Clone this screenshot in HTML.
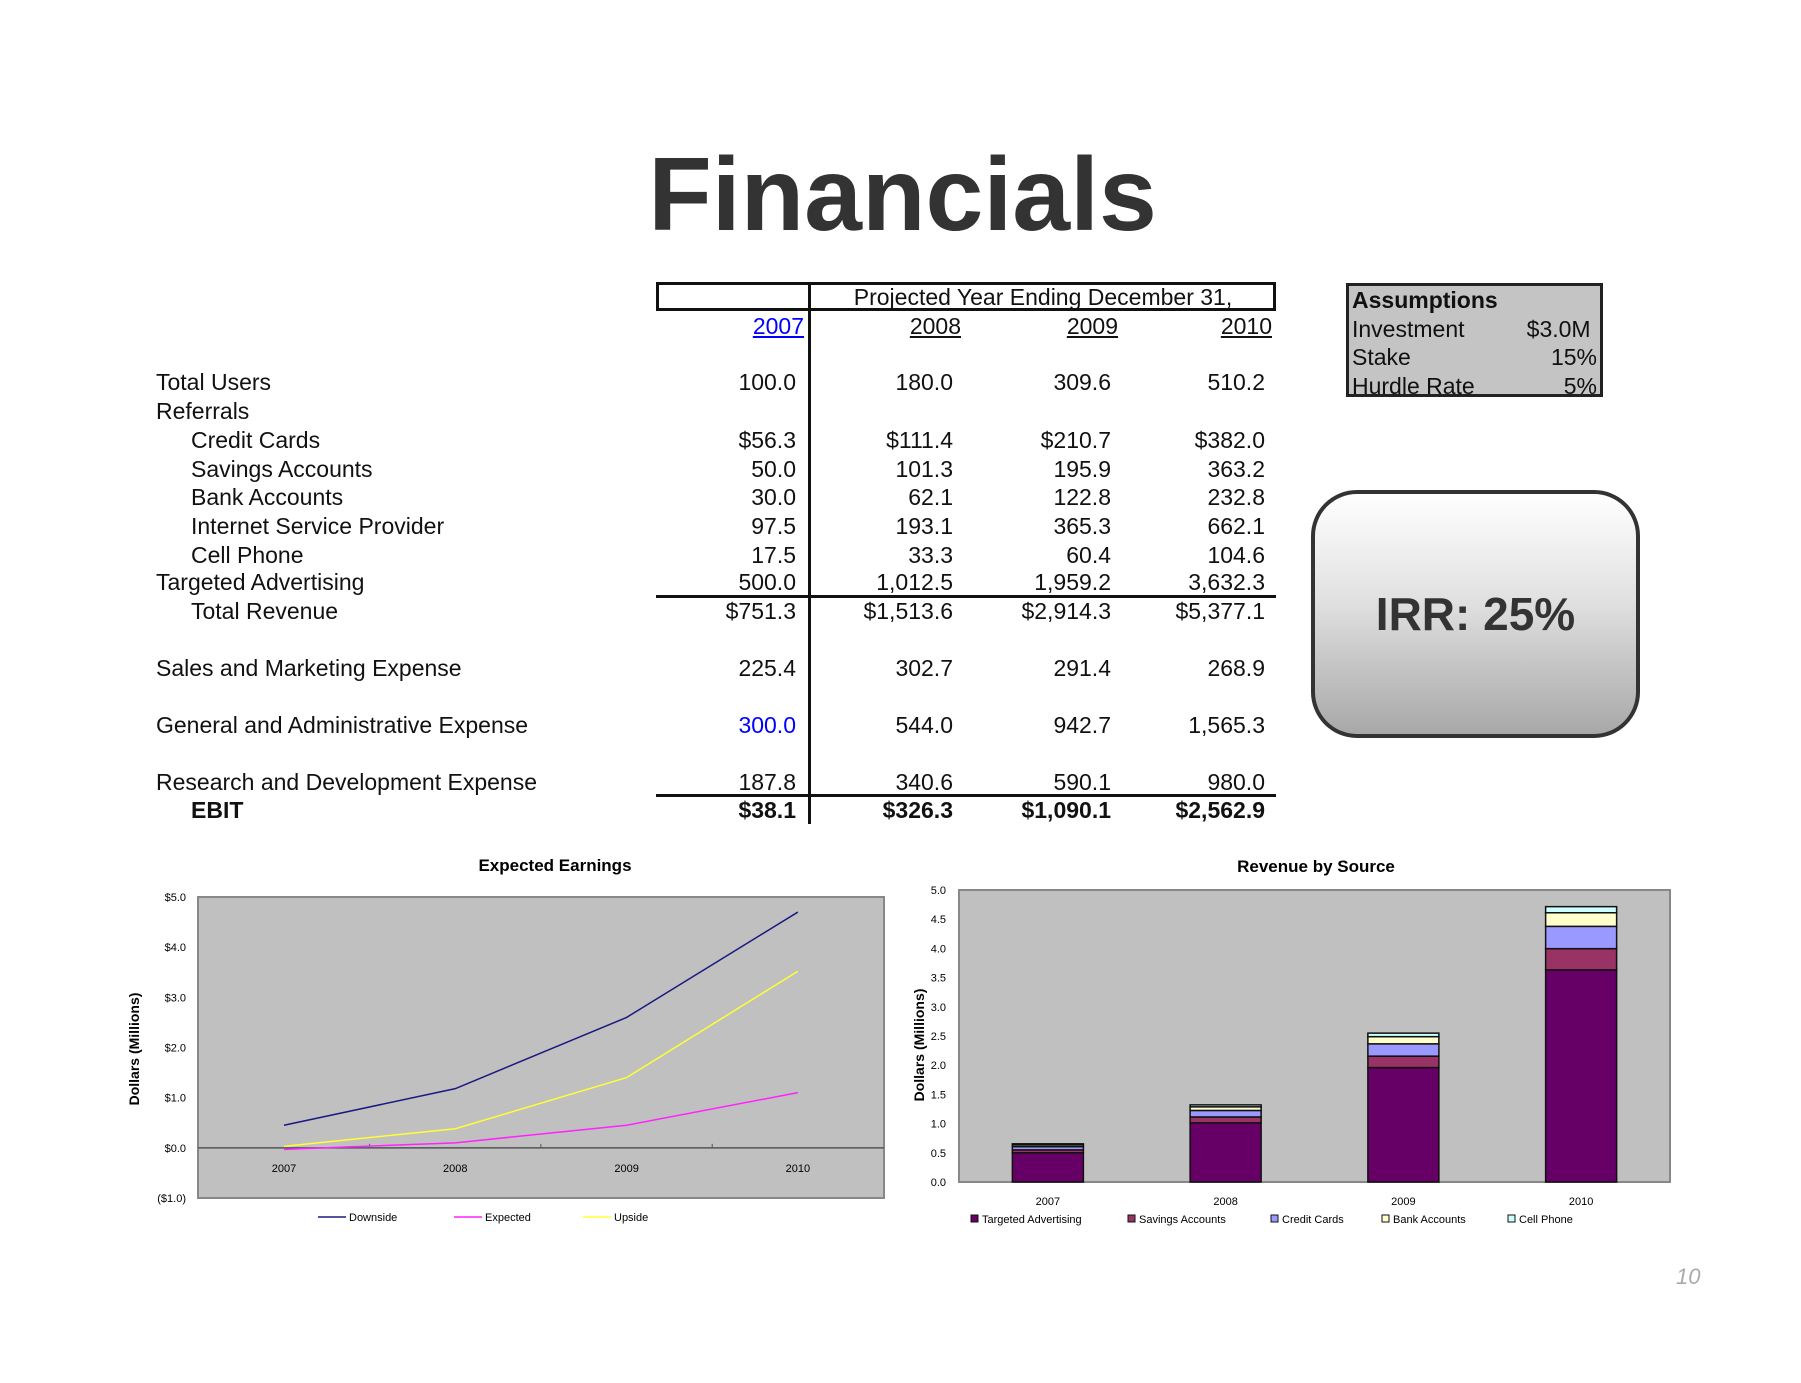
<!DOCTYPE html>
<html><head><meta charset="utf-8"><style>
body{margin:0;width:1801px;height:1383px;background:#fff;position:relative;overflow:hidden;font-family:"Liberation Sans",sans-serif;color:#111}
.a{position:absolute;white-space:nowrap}
.r{position:absolute;left:0;width:1801px;height:26px;line-height:26px;font-size:23px}
.r span{position:absolute;white-space:nowrap}
.l{left:156px}.i{left:191px}
.v1{left:680px;width:116px;text-align:right}
.v2{left:830px;width:123px;text-align:right}
.v3{left:980px;width:131px;text-align:right}
.v4{left:1130px;width:135px;text-align:right}
.b{font-weight:bold}
</style></head><body>
<div class="a" style="left:0;width:1801px;text-align:center;top:140px;font-size:104px;font-weight:bold;color:#333;line-height:110px;padding-left:0;box-sizing:border-box;text-indent:0"><span style="position:relative;left:2px">Financials</span></div>

<div class="a" style="left:656px;top:282px;width:620px;height:29px;border:3px solid #111;box-sizing:border-box"></div>
<div class="a" style="left:808px;top:282px;width:3px;height:542px;background:#111"></div>
<div class="a" style="left:810px;width:466px;text-align:center;top:284px;font-size:23px;line-height:26px">Projected Year Ending December 31,</div>
<div class="r" style="top:313px">
<span class="v1" style="color:#00f;text-decoration:underline;width:124px">2007</span>
<span class="v2" style="text-decoration:underline;width:131px">2008</span>
<span class="v3" style="text-decoration:underline;width:138px">2009</span>
<span class="v4" style="text-decoration:underline;width:142px">2010</span></div>
<div class="r" style="top:369px"><span class="l">Total Users</span><span class="v1">100.0</span><span class="v2">180.0</span><span class="v3">309.6</span><span class="v4">510.2</span></div>
<div class="r" style="top:398px"><span class="l">Referrals</span></div>
<div class="r" style="top:427px"><span class="i">Credit Cards</span><span class="v1">$56.3</span><span class="v2">$111.4</span><span class="v3">$210.7</span><span class="v4">$382.0</span></div>
<div class="r" style="top:456px"><span class="i">Savings Accounts</span><span class="v1">50.0</span><span class="v2">101.3</span><span class="v3">195.9</span><span class="v4">363.2</span></div>
<div class="r" style="top:484px"><span class="i">Bank Accounts</span><span class="v1">30.0</span><span class="v2">62.1</span><span class="v3">122.8</span><span class="v4">232.8</span></div>
<div class="r" style="top:513px"><span class="i">Internet Service Provider</span><span class="v1">97.5</span><span class="v2">193.1</span><span class="v3">365.3</span><span class="v4">662.1</span></div>
<div class="r" style="top:542px"><span class="i">Cell Phone</span><span class="v1">17.5</span><span class="v2">33.3</span><span class="v3">60.4</span><span class="v4">104.6</span></div>
<div class="r" style="top:569px"><span class="l">Targeted Advertising</span><span class="v1">500.0</span><span class="v2">1,012.5</span><span class="v3">1,959.2</span><span class="v4">3,632.3</span></div>
<div class="a" style="left:656px;top:595px;width:620px;height:3px;background:#111"></div>
<div class="r" style="top:598px"><span class="i">Total Revenue</span><span class="v1">$751.3</span><span class="v2">$1,513.6</span><span class="v3">$2,914.3</span><span class="v4">$5,377.1</span></div>
<div class="r" style="top:655px"><span class="l">Sales and Marketing Expense</span><span class="v1">225.4</span><span class="v2">302.7</span><span class="v3">291.4</span><span class="v4">268.9</span></div>
<div class="r" style="top:712px"><span class="l">General and Administrative Expense</span><span class="v1" style="color:#00f">300.0</span><span class="v2">544.0</span><span class="v3">942.7</span><span class="v4">1,565.3</span></div>
<div class="r" style="top:769px"><span class="l">Research and Development Expense</span><span class="v1">187.8</span><span class="v2">340.6</span><span class="v3">590.1</span><span class="v4">980.0</span></div>
<div class="a" style="left:656px;top:794px;width:620px;height:3px;background:#111"></div>
<div class="r b" style="top:797px"><span class="i">EBIT</span><span class="v1">$38.1</span><span class="v2">$326.3</span><span class="v3">$1,090.1</span><span class="v4">$2,562.9</span></div>

<div class="a" style="left:1346px;top:283px;width:257px;height:114px;background:#c4c4c4;border:3px solid #222;box-sizing:border-box;font-size:23px;line-height:28.5px">
<div style="padding-left:3px;font-weight:bold">Assumptions</div>
<div style="padding:0 3px;display:flex;justify-content:space-between"><span>Investment</span><span>$3.0M&nbsp;</span></div>
<div style="padding:0 3px;display:flex;justify-content:space-between"><span>Stake</span><span>15%</span></div>
<div style="padding:0 3px;display:flex;justify-content:space-between"><span>Hurdle Rate</span><span>5%</span></div>
</div>
<div class="a" style="left:1311px;top:490px;width:329px;height:248px;border:4px solid #333;border-radius:46px;box-sizing:border-box;background:linear-gradient(#ffffff 0%,#e0e0e0 45%,#a8a8a8 100%);text-align:center;line-height:240px;font-size:46px;font-weight:bold;color:#333">IRR: 25%</div>
<div class="a" style="left:1676px;top:1264px;font-size:22px;font-style:italic;color:#aaa">10</div>

<svg id="charts" class="a" style="left:0;top:0" width="1801" height="1383" font-family="Liberation Sans, sans-serif"></svg>
<script>
// Expected Earnings data
const years = ["2007","2008","2009","2010"];
const downside = [0.45, 1.18, 2.6, 4.7];
const expected = [-0.03, 0.1, 0.45, 1.1];
const upside = [0.03, 0.38, 1.4, 3.52];
const earnTicks = ["($1.0)","$0.0","$1.0","$2.0","$3.0","$4.0","$5.0"];
const earnTickVals = [-1,0,1,2,3,4,5];
// Revenue by Source data ($ millions)
const targetedAdv = [0.5, 1.0125, 1.9592, 3.6323];
const savingsAcc = [0.05, 0.1013, 0.1959, 0.3632];
const creditCards = [0.0563, 0.1114, 0.2107, 0.382];
const bankAcc = [0.03, 0.0621, 0.1228, 0.2328];
const cellPhone = [0.0175, 0.0333, 0.0604, 0.1046];
const revTicks = [0,0.5,1,1.5,2,2.5,3,3.5,4,4.5,5];

const svg = document.getElementById('charts');
const NS = 'http://www.w3.org/2000/svg';
function mk(tag, attrs, parent){const e=document.createElementNS(NS,tag);for(const k in attrs)e.setAttribute(k,attrs[k]);(parent||svg).appendChild(e);return e;}
function txt(s,attrs){const e=mk('text',attrs);e.textContent=s;return e;}

// ---- Line chart
const L={x0:198,x1:884,y0:897,y1:1198,min:-1,max:5};
const ly=v=>L.y1-(v-L.min)/(L.max-L.min)*(L.y1-L.y0);
const lx=i=>L.x0+(L.x1-L.x0)*(i+0.5)/years.length - 0;
let e=txt('Expected Earnings',{x:555,y:871,'text-anchor':'middle','font-size':17,'font-weight':'bold'});


e=mk('rect',{x:L.x0,y:L.y0,width:L.x1-L.x0,height:L.y1-L.y0,fill:'#c0c0c0',stroke:'#888','stroke-width':2});


e=mk('line',{x1:L.x0,x2:L.x1,y1:ly(0),y2:ly(0),stroke:'#555','stroke-width':1.5});


earnTickVals.forEach((v,i)=>{const t=txt(earnTicks[i],{x:186,y:ly(v)+4,'text-anchor':'end','font-size':11});

});
const lstep=(L.x1-L.x0)/4.6;
const lxs=i=>284+i*171.3;
years.forEach((y,i)=>{const t=txt(y,{x:lxs(i),y:ly(0)+24,'text-anchor':'middle','font-size':11});


if(i<3){const k=mk('line',{x1:lxs(i)+85.6,x2:lxs(i)+85.6,y1:ly(0)-4,y2:ly(0),stroke:'#555'});

}});
e=txt('Dollars (Millions)',{x:0,y:0,'text-anchor':'middle','font-size':14,'font-weight':'bold',transform:'translate(139,1049) rotate(-90)'});


[[downside,'#1a1a80','downside-line'],[expected,'#ff22ff','expected-line'],[upside,'#ffff33','upside-line']].forEach(([d,c,n])=>{
const p=mk('polyline',{points:d.map((v,i)=>lxs(i)+','+ly(v)).join(' '),fill:'none',stroke:c,'stroke-width':1.5});

});
[['Downside','#1a1a80',318],['Expected','#ff22ff',454],['Upside','#ffff33',583]].forEach(([n,c,x])=>{
const g=mk('g',{});


mk('line',{x1:x,x2:x+28,y1:1217,y2:1217,stroke:c,'stroke-width':1.5},g);
const t=mk('text',{x:x+31,y:1221,'font-size':11},g);t.textContent=n;});

// ---- Stacked bar chart
const B={x0:959,x1:1670,y0:890,y1:1182,max:5};
const by=v=>B.y1-v/B.max*(B.y1-B.y0);
const bx=i=>B.x0+(B.x1-B.x0)*(i+0.5)/years.length;
e=txt('Revenue by Source',{x:1316,y:872,'text-anchor':'middle','font-size':17,'font-weight':'bold'});


e=mk('rect',{x:B.x0,y:B.y0,width:B.x1-B.x0,height:B.y1-B.y0,fill:'#c0c0c0',stroke:'#888','stroke-width':2});


revTicks.forEach(v=>{const t=txt(v.toFixed(1),{x:946,y:by(v)+4,'text-anchor':'end','font-size':11});

});
e=txt('Dollars (Millions)',{x:0,y:0,'text-anchor':'middle','font-size':14,'font-weight':'bold',transform:'translate(924,1045) rotate(-90)'});


const series=[[targetedAdv,'#660066'],[savingsAcc,'#993366'],[creditCards,'#9999ff'],[bankAcc,'#ffffcc'],[cellPhone,'#ccffff']];
const names=['Targeted Advertising','Savings Accounts','Credit Cards','Bank Accounts','Cell Phone'];
years.forEach((y,i)=>{let base=0;
series.forEach(([d,c],s)=>{const r=mk('rect',{x:bx(i)-35.5,y:by(base+d[i]),width:71,height:by(base)-by(base+d[i]),fill:c,stroke:'#111','stroke-width':1.5});

base+=d[i];});
const t=txt(y,{x:bx(i),y:1205,'text-anchor':'middle','font-size':11});

});
const legX=[971,1128,1271,1382,1508];
names.forEach((n,s)=>{const g=mk('g',{});


mk('rect',{x:legX[s],y:1215,width:7,height:7,fill:series[s][1],stroke:'#111'},g);
const t=mk('text',{x:legX[s]+11,y:1223,'font-size':11},g);t.textContent=n;});
</script>
</body></html>
